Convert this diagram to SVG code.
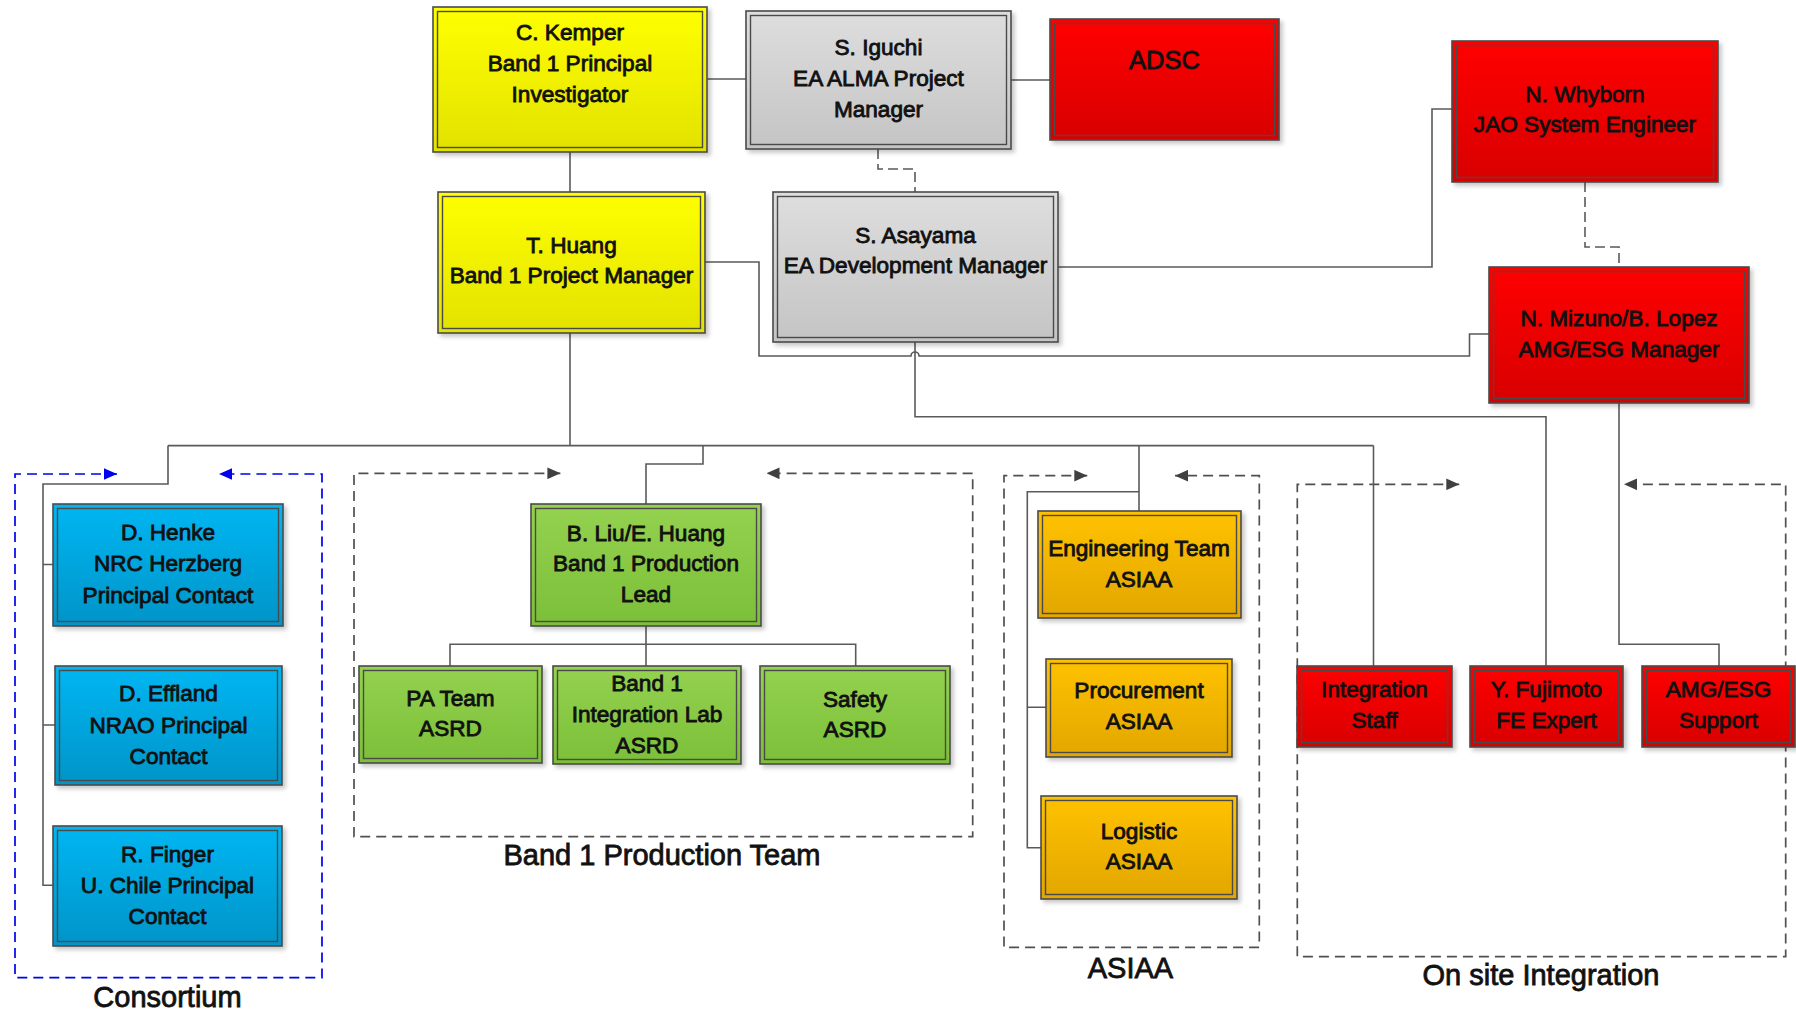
<svg xmlns="http://www.w3.org/2000/svg" width="1796" height="1012" viewBox="0 0 1796 1012">
<defs>
<linearGradient id="gY" x1="0" y1="0" x2="0" y2="1"><stop offset="0" stop-color="#ffff00"/><stop offset="1" stop-color="#e2e200"/></linearGradient>
<linearGradient id="gG" x1="0" y1="0" x2="0" y2="1"><stop offset="0" stop-color="#dedede"/><stop offset="1" stop-color="#c4c4c4"/></linearGradient>
<linearGradient id="gR" x1="0" y1="0" x2="0" y2="1"><stop offset="0" stop-color="#ff0000"/><stop offset="1" stop-color="#d80000"/></linearGradient>
<linearGradient id="gB" x1="0" y1="0" x2="0" y2="1"><stop offset="0" stop-color="#00b6f2"/><stop offset="1" stop-color="#0094c8"/></linearGradient>
<linearGradient id="gN" x1="0" y1="0" x2="0" y2="1"><stop offset="0" stop-color="#94d250"/><stop offset="1" stop-color="#7cbf38"/></linearGradient>
<linearGradient id="gO" x1="0" y1="0" x2="0" y2="1"><stop offset="0" stop-color="#ffc200"/><stop offset="1" stop-color="#e2a600"/></linearGradient>
<filter id="sh" x="-10%" y="-10%" width="125%" height="130%">
<feDropShadow dx="3" dy="3" stdDeviation="2" flood-color="#000" flood-opacity="0.22"/>
</filter>
<marker id="aG" viewBox="0 0 10 9" refX="10" refY="4.5" markerWidth="13" markerHeight="12" markerUnits="userSpaceOnUse" orient="auto-start-reverse"><path d="M0,0 L10,4.5 L0,9 Z" fill="#404040"/></marker>
<marker id="aB" viewBox="0 0 10 9" refX="10" refY="4.5" markerWidth="13" markerHeight="12" markerUnits="userSpaceOnUse" orient="auto-start-reverse"><path d="M0,0 L10,4.5 L0,9 Z" fill="#0000ee"/></marker>
</defs>
<style>
.o{stroke:#4a4a4a;stroke-width:1.6}
.i{fill:none;stroke:#4a4a4a;stroke-width:1.4}
.t{font-family:"Liberation Sans",Arial,sans-serif;font-size:22.6px;text-anchor:middle;fill:#111;stroke:#111;stroke-width:0.85}
.big{font-size:25.5px}
.lbl{font-family:"Liberation Sans",Arial,sans-serif;font-size:29px;text-anchor:middle;fill:#111;stroke:#111;stroke-width:0.8}
.c{fill:none;stroke:#5a5a5a;stroke-width:1.6}
.d{stroke-dasharray:10 5}
.ct{fill:none;stroke:#505050;stroke-width:1.7;stroke-dasharray:10 6;marker-start:url(#aG);marker-end:url(#aG)}
.cb{fill:none;stroke:#0000ee;stroke-width:1.7;stroke-dasharray:10 6;marker-start:url(#aB);marker-end:url(#aB)}
</style>
<rect width="1796" height="1012" fill="#ffffff"/>

<g id="containers">
<path class="cb" d="M117,474 H15 V977.7 H322 V474 H219"/>
<path class="ct" d="M560.4,473.3 H354 V836.7 H972.7 V473.3 H766.5"/>
<path class="ct" d="M1087.3,475.7 H1004 V947.3 H1259.3 V475.7 H1175"/>
<path class="ct" d="M1459.3,484.3 H1297.3 V956.7 H1785.7 V484.3 H1624"/>
<text class="lbl" x="167.5" y="1007">Consortium</text>
<text class="lbl" x="662" y="865">Band 1 Production Team</text>
<text class="lbl" x="1130.5" y="978">ASIAA</text>
<text class="lbl" x="1541" y="985">On site Integration</text>
</g>

<g id="connectors">
<path class="c" d="M707,79 H746"/>
<path class="c" d="M1011,80 H1050"/>
<path class="c" d="M570,152 V192"/>
<path class="c d" d="M878,149 V169 H915 V192"/>
<path class="c" d="M1058,267 H1432 V109 H1452"/>
<path class="c d" d="M1585,182 V247 H1619 V267"/>
<path class="c" d="M705,262 H759 V356 H911 A4,4 0 0 1 919,356 H1469.5 V334 H1489"/>
<path class="c" d="M570,333 V445.6"/>
<path class="c" d="M168,445.6 H1373.5"/>
<path class="c" d="M168,445.6 V484 H43 V885.3 H53 M43,564.5 H53 M43,725 H55"/>
<path class="c" d="M703,445.6 V464 H646 V504"/>
<path class="c" d="M646,626 V666 M450,666 V644.3 H855.7 V666"/>
<path class="c" d="M1139,445.6 V511 M1139,491.7 H1027.3 V847.7 H1041 M1027.3,707.3 H1046"/>
<path class="c" d="M1373.5,445.6 V666"/>
<path class="c" d="M915,342 V416.7 H1546 V666"/>
<path class="c" d="M1619,403 V644.3 H1719 V666"/>
</g>

<g id="kemper"><rect class="o" x="433" y="7" width="274" height="145" fill="url(#gY)" filter="url(#sh)"/><rect class="i" x="437.5" y="11.5" width="265" height="136"/>
<text class="t" x="570" y="40">C. Kemper</text><text class="t" x="570" y="71">Band 1 Principal</text><text class="t" x="570" y="102">Investigator</text></g>

<g id="iguchi"><rect class="o" x="746" y="11" width="265" height="138" fill="url(#gG)" filter="url(#sh)"/><rect class="i" x="750.5" y="15.5" width="256" height="129"/>
<text class="t" x="878.5" y="55">S. Iguchi</text><text class="t" x="878.5" y="86">EA ALMA Project</text><text class="t" x="878.5" y="117">Manager</text></g>

<g id="adsc"><rect class="o" x="1050" y="19" width="229" height="121" fill="url(#gR)" filter="url(#sh)"/><rect class="i" x="1054.5" y="23.5" width="220" height="112"/>
<text class="t big" x="1164.5" y="68.5">ADSC</text></g>

<g id="whyborn"><rect class="o" x="1452" y="41" width="266" height="141" fill="url(#gR)" filter="url(#sh)"/><rect class="i" x="1456.5" y="45.5" width="257" height="132"/>
<text class="t" x="1585" y="101.5">N. Whyborn</text><text class="t" x="1585" y="132">JAO System Engineer</text></g>

<g id="huang"><rect class="o" x="438" y="192" width="267" height="141" fill="url(#gY)" filter="url(#sh)"/><rect class="i" x="442.5" y="196.5" width="258" height="132"/>
<text class="t" x="571.5" y="253">T. Huang</text><text class="t" x="571.5" y="283">Band 1 Project Manager</text></g>

<g id="asayama"><rect class="o" x="773" y="192" width="285" height="150" fill="url(#gG)" filter="url(#sh)"/><rect class="i" x="777.5" y="196.5" width="276" height="141"/>
<text class="t" x="915.5" y="243">S. Asayama</text><text class="t" x="915.5" y="273">EA Development Manager</text></g>

<g id="mizuno"><rect class="o" x="1489" y="267" width="260" height="136" fill="url(#gR)" filter="url(#sh)"/><rect class="i" x="1493.5" y="271.5" width="251" height="127"/>
<text class="t" x="1619" y="326">N. Mizuno/B. Lopez</text><text class="t" x="1619" y="357">AMG/ESG Manager</text></g>

<g id="henke"><rect class="o" x="53" y="504" width="230" height="122" fill="url(#gB)" filter="url(#sh)"/><rect class="i" x="57.5" y="508.5" width="221" height="113"/>
<text class="t" x="168" y="540">D. Henke</text><text class="t" x="168" y="571">NRC Herzberg</text><text class="t" x="168" y="603">Principal Contact</text></g>

<g id="effland"><rect class="o" x="55" y="666" width="227" height="119" fill="url(#gB)" filter="url(#sh)"/><rect class="i" x="59.5" y="670.5" width="218" height="110"/>
<text class="t" x="168.5" y="701">D. Effland</text><text class="t" x="168.5" y="733">NRAO Principal</text><text class="t" x="168.5" y="764">Contact</text></g>

<g id="finger"><rect class="o" x="53" y="826" width="229" height="120" fill="url(#gB)" filter="url(#sh)"/><rect class="i" x="57.5" y="830.5" width="220" height="111"/>
<text class="t" x="167.5" y="861.5">R. Finger</text><text class="t" x="167.5" y="892.5">U. Chile Principal</text><text class="t" x="167.5" y="924">Contact</text></g>

<g id="liu"><rect class="o" x="531" y="504" width="230" height="122" fill="url(#gN)" filter="url(#sh)"/><rect class="i" x="535.5" y="508.5" width="221" height="113"/>
<text class="t" x="646" y="540.5">B. Liu/E. Huang</text><text class="t" x="646" y="571">Band 1 Production</text><text class="t" x="646" y="602">Lead</text></g>

<g id="pateam"><rect class="o" x="359" y="666" width="183" height="97" fill="url(#gN)" filter="url(#sh)"/><rect class="i" x="363.5" y="670.5" width="174" height="88"/>
<text class="t" x="450.5" y="705.7">PA Team</text><text class="t" x="450.5" y="736">ASRD</text></g>

<g id="intlab"><rect class="o" x="553" y="666" width="188" height="98" fill="url(#gN)" filter="url(#sh)"/><rect class="i" x="557.5" y="670.5" width="179" height="89"/>
<text class="t" x="647" y="690.7">Band 1</text><text class="t" x="647" y="721.7">Integration Lab</text><text class="t" x="647" y="753.3">ASRD</text></g>

<g id="safety"><rect class="o" x="760" y="666" width="190" height="98" fill="url(#gN)" filter="url(#sh)"/><rect class="i" x="764.5" y="670.5" width="181" height="89"/>
<text class="t" x="855" y="706.7">Safety</text><text class="t" x="855" y="736.7">ASRD</text></g>

<g id="engteam"><rect class="o" x="1038" y="511" width="203" height="107" fill="url(#gO)" filter="url(#sh)"/><rect class="i" x="1042.5" y="515.5" width="194" height="98"/>
<text class="t" x="1139" y="555.7">Engineering Team</text><text class="t" x="1139" y="586.7">ASIAA</text></g>

<g id="procurement"><rect class="o" x="1046" y="659" width="186" height="98" fill="url(#gO)" filter="url(#sh)"/><rect class="i" x="1050.5" y="663.5" width="177" height="89"/>
<text class="t" x="1139" y="698.3">Procurement</text><text class="t" x="1139" y="729.3">ASIAA</text></g>

<g id="logistic"><rect class="o" x="1041" y="796" width="196" height="103" fill="url(#gO)" filter="url(#sh)"/><rect class="i" x="1045.5" y="800.5" width="187" height="94"/>
<text class="t" x="1139" y="839">Logistic</text><text class="t" x="1139" y="869.3">ASIAA</text></g>

<g id="intstaff"><rect class="o" x="1297" y="666" width="155" height="81" fill="url(#gR)" filter="url(#sh)"/><rect class="i" x="1301.5" y="670.5" width="146" height="72"/>
<text class="t" x="1374.5" y="696.7">Integration</text><text class="t" x="1374.5" y="727.7">Staff</text></g>

<g id="fujimoto"><rect class="o" x="1470" y="666" width="153" height="81" fill="url(#gR)" filter="url(#sh)"/><rect class="i" x="1474.5" y="670.5" width="144" height="72"/>
<text class="t" x="1546.5" y="696.7">Y. Fujimoto</text><text class="t" x="1546.5" y="727.7">FE Expert</text></g>

<g id="amgsupport"><rect class="o" x="1642" y="666" width="153" height="81" fill="url(#gR)" filter="url(#sh)"/><rect class="i" x="1646.5" y="670.5" width="144" height="72"/>
<text class="t" x="1718.5" y="696.7">AMG/ESG</text><text class="t" x="1718.5" y="727.7">Support</text></g>
</svg>
